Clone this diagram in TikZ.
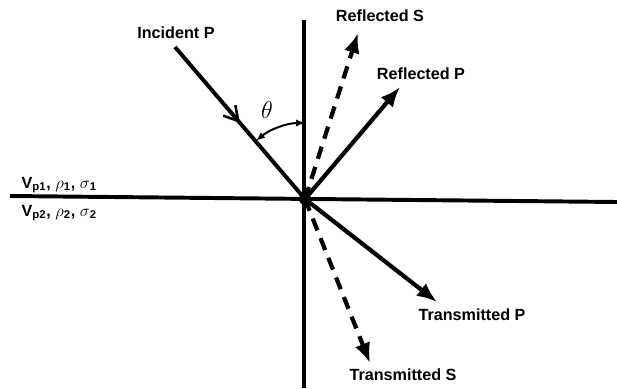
\documentclass[tikz,border=0pt]{standalone}
\usepackage{fontspec}
\setmainfont{Liberation Sans}
\usepackage{tikz}
\usetikzlibrary{arrows.meta, positioning, calc, decorations.markings}

\begin{document}
\begin{tikzpicture}[
    x=0.025cm, y=-0.025cm,
    label/.style={font=\fontsize{11.5}{13}\bfseries\selectfont, inner sep=1pt},
    axis/.style={line width=2.8pt},
    wave/.style={line width=3pt, -{Latex[length=5mm, width=4mm]}},
    swave/.style={wave, dash pattern=on 9pt off 6pt},
    midarrow/.style={postaction={decorate}, decoration={markings,
                     mark=at position 0.5 with {\arrow{Straight Barb[length=3.5mm, width=4mm, line width=1.8pt]}}}},
]
    \useasboundingbox (0,0) rectangle (617,388);
    % interface and normal
    \coordinate (O) at (305,199);
    \coordinate (left) at (10,196);
    \coordinate (right) at (617,202);
    \coordinate (top) at (304,20);
    \coordinate (bottom) at (304,388);
    \draw[axis] (left) -- (right);
    \draw[axis] (top) -- (bottom);
    % ray ends
    \coordinate (inc) at (175,47);
    \coordinate (rp) at (400,87);
    \coordinate (rs) at (358,33);
    \coordinate (tp) at (437,302);
    \coordinate (ts) at (370,363);
    \draw[line width=2.8pt, midarrow] (inc) -- (O);
    \draw[wave] (O) -- (rp);
    \draw[swave] (O) -- (rs);
    \draw[wave] (O) -- (tp);
    \draw[swave] (O) -- (ts);
    \fill (O) circle (6);
    % angle of incidence
    \draw[line width=1.4pt, {Latex[length=2.2mm, width=1.8mm]}-{Latex[length=2.2mm, width=1.8mm]}]
        ($(O)+(230:76)$) arc (230:270:76);
    \node[label, font=\LARGE] (theta) at (267,110) {$\theta$};
    % labels
    \node[label] (incL) at (176,33) {Incident P};
    \node[label] (rsL) at (380,16) {Reflected S};
    \node[label] (rpL) at (421,74) {Reflected P};
    \node[label] (tpL) at (472,315) {Transmitted P};
    \node[label] (tsL) at (403,375) {Transmitted S};
    \node[label, anchor=west] (layer1) at (20,185) {V\textsubscript{p1}, $\rho$\textsubscript{1}, $\sigma$\textsubscript{1}};
    \node[label, anchor=west] (layer2) at (20,213) {V\textsubscript{p2}, $\rho$\textsubscript{2}, $\sigma$\textsubscript{2}};
\end{tikzpicture}
\end{document}
